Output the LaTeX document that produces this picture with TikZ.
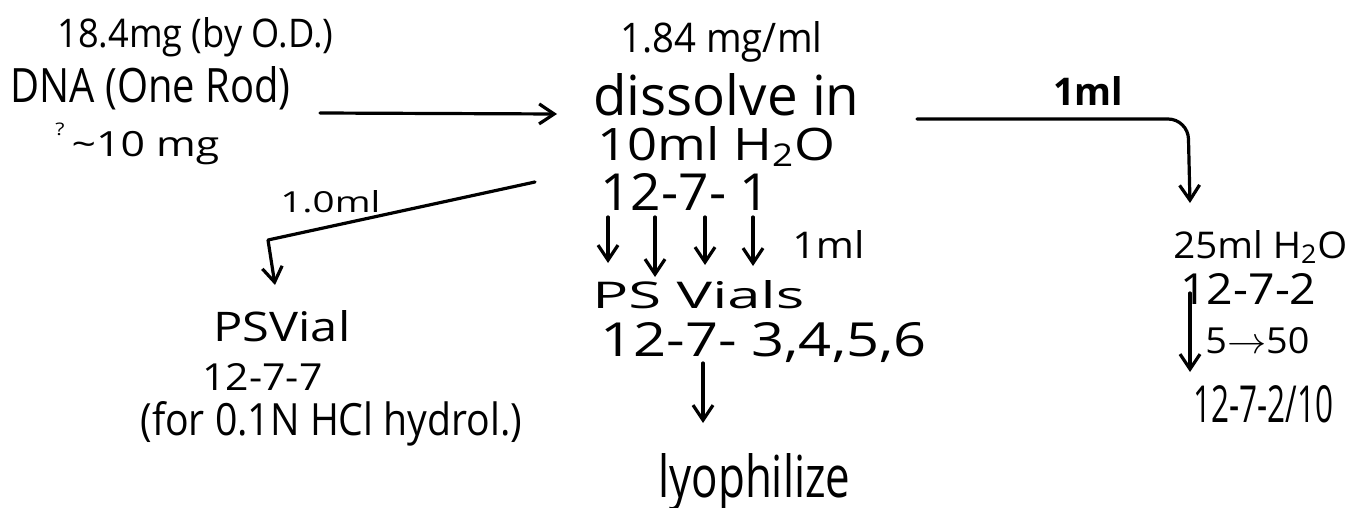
\documentclass[tikz,border=0pt]{standalone}
\usepackage{fontspec}
\setmainfont{Open Sans}
\usetikzlibrary{arrows.meta}
% \hw{width}{height}{text}: text stretched to the given width and height above the baseline
\newcommand\hw[3]{\resizebox{#1pt}{#2pt}{#3}}
\begin{document}
\begin{tikzpicture}[x=0.5pt,y=-0.5pt,
  txt/.style={inner sep=0pt, anchor=base west, font=\fontsize{20}{20}\selectfont},
  arr/.style={line width=1.6pt, line cap=round, line join=round,
    -{Straight Barb[length=7.5pt,width=10pt,line width=1.6pt]}}]
\useasboundingbox (0,0) rectangle (1353,508);

% starting material
\node[txt] (mass) at (57,48)  {\hw{138}{15}{18.4mg (by O.D.)}};
\node[txt] (dna)  at (10,103) {\hw{140}{18}{DNA (One Rod)}};
\node[txt] (est)  at (55,156) {\hw{82}{16.5}{\raisebox{1.1ex}{\fontsize{10}{10}\selectfont ?}\,\textasciitilde10 mg}};

% stock solution
\node[txt] (conc)   at (620,53)  {\hw{101}{15.5}{1.84 mg/ml}};
\node[txt] (diss)   at (593,115) {\hw{133}{21}{dissolve in}};
\node[txt] (water)  at (597,160) {\hw{119}{17}{10ml H\textsubscript{2}O}};
\node[txt] (id1)    at (600,210) {\hw{85}{18.5}{12-7- 1}};
\node[txt] (onemlA) at (792,258) {\hw{36}{14}{1ml}};
\node[txt] (vials)  at (592,308) {\hw{106}{14}{PS Vials}};
\node[txt] (ids)    at (600,356) {\hw{163}{17}{12-7- 3,4,5,6}};
\node[txt] (lyo)    at (658,497) {\hw{96}{22}{lyophilize}};

% side sample
\node[txt] (tenth)  at (280,212) {\hw{50}{11}{1.0ml}};
\node[txt] (psvial) at (213,341) {\hw{68.5}{15.5}{PSVial}};
\node[txt] (id7)    at (202,390) {\hw{60}{13.5}{12-7-7}};
\node[txt] (hcl)    at (140,435) {\hw{191}{17}{(for 0.1N HCl hydrol.)}};

% dilution
\node[txt] (onemlB) at (1053,106) {\hw{35}{14.5}{\bfseries 1ml}};
\node[txt] (h2o)    at (1173,258) {\hw{87}{14}{25ml H\textsubscript{2}O}};
\node[txt] (id2)    at (1180,304) {\hw{68}{15.5}{12-7-2}};
\node[txt] (ratio)  at (1205,353) {\hw{52}{13}{5$\rightarrow$50}};
\node[txt] (id2b)   at (1193,422) {\hw{70}{18.5}{12-7-2/10}};

% connector end points
\coordinate (mainS) at (320,113);
\coordinate (mainE) at (557,114);
\coordinate (sideS) at (535,182);
\coordinate (sideB) at (268,240);
\coordinate (sideE) at (275,285);
\coordinate (dilS)  at (917,119);
\coordinate (dilB)  at (1188,119);
\coordinate (dilE)  at (1190,203);
\coordinate (lyoS)  at (703,363);
\coordinate (lyoE)  at (703,423);
\coordinate (tenS)  at (1190,293);
\coordinate (tenE)  at (1190,372);

\draw[arr] (mainS) -- (mainE);
\draw[arr] (sideS) -- (sideB) -- (sideE);
\draw[arr, rounded corners=10pt] (dilS) -- (dilB) -- (dilE);

% aliquots into the four vials
\foreach \x/\y in {608/263, 655/277, 705/265, 753/266}
  \draw[arr] (\x,217) -- (\x,\y);
\draw[arr] (lyoS) -- (lyoE);
\draw[arr] (tenS) -- (tenE);
\end{tikzpicture}
\end{document}
